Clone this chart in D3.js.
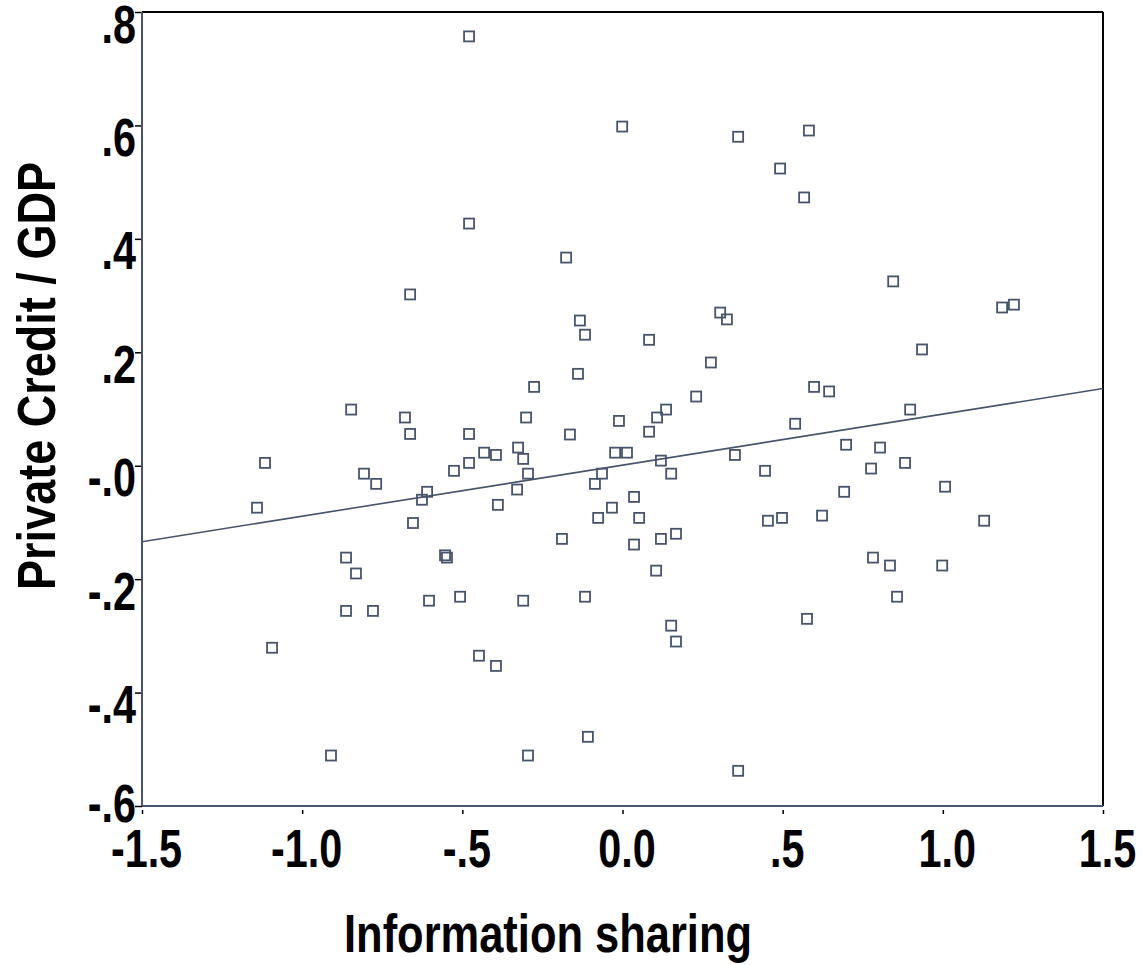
<!DOCTYPE html>
<html>
<head>
<meta charset="utf-8">
<script src="https://cdn.jsdelivr.net/npm/d3@7"></script>
<style>
  body { margin: 0; background: #fff; }
  svg text { font-family: "Liberation Sans", Arial, sans-serif; font-weight: bold; fill: #000; }
</style>
</head>
<body>
<svg id="chart" width="1142" height="965"></svg>
<script>
// information sharing (x) vs private credit / GDP (y)
const infoSharing = [
  -0.479, -0.001, 0.361, 0.582, 0.492, 0.567, -0.479, -0.176, -0.663, 0.845,
  1.185, 1.222, -0.133, 0.305, 0.326, -0.117, 0.083, 0.935, 0.276, -0.139,
  -0.276, 0.598, 0.645, 0.230, -0.847, 0.136, 0.898, -0.679, -0.301, -0.011,
  0.108, 0.539, 0.083, -0.663, -0.479, -0.164, 0.698, 0.804, -0.326, -0.432,
  -0.395, -0.023, 0.014, 0.351, -0.310, 0.120, -1.116, -0.479, 0.882, -0.526,
  -0.807, -0.295, -0.064, 0.152, 0.445, 0.776, -0.769, -0.086, 1.007, -0.329,
  -0.610, 0.692, 0.036, -0.626, -0.389, -0.033, -1.141, -0.076, 0.052, 0.498,
  0.623, 0.454, 1.129, -0.654, 0.167, 0.120, -0.189, 0.036, -0.554, -0.548,
  -0.863, 0.782, 0.835, 0.998, 0.105, -0.832, -0.507, -0.117, 0.857, -0.604,
  -0.310, -0.863, -0.779, 0.576, 0.152, 0.167, -1.094, -0.448, -0.395, -0.108,
  -0.910, -0.295, 0.361
];
const privateCredit = [
  0.757, 0.598, 0.580, 0.591, 0.524, 0.473, 0.427, 0.367, 0.302, 0.325,
  0.279, 0.284, 0.256, 0.270, 0.258, 0.231, 0.222, 0.205, 0.182, 0.162,
  0.139, 0.139, 0.131, 0.122, 0.099, 0.099, 0.099, 0.085, 0.085, 0.079,
  0.085, 0.074, 0.060, 0.056, 0.056, 0.055, 0.037, 0.032, 0.032, 0.023,
  0.019, 0.023, 0.023, 0.019, 0.012, 0.009, 0.005, 0.005, 0.005, -0.009,
  -0.014, -0.014, -0.014, -0.014, -0.009, -0.005, -0.032, -0.032, -0.037, -0.042,
  -0.046, -0.046, -0.055, -0.060, -0.069, -0.074, -0.074, -0.092, -0.092, -0.092,
  -0.088, -0.097, -0.097, -0.101, -0.120, -0.129, -0.129, -0.139, -0.158, -0.162,
  -0.162, -0.162, -0.176, -0.176, -0.185, -0.190, -0.231, -0.231, -0.231, -0.238,
  -0.238, -0.256, -0.256, -0.270, -0.282, -0.310, -0.321, -0.335, -0.353, -0.478,
  -0.511, -0.511, -0.538
];
// fitted line end points
const fitX = [-1.5, 1.5];
const fitY = [-0.134, 0.136];

const xTicks = [-1.5, -1.0, -0.5, 0.0, 0.5, 1.0, 1.5];
const xTickLabels = ["-1.5", "-1.0", "-.5", "0.0", ".5", "1.0", "1.5"];
const yTicks = [0.8, 0.6, 0.4, 0.2, 0.0, -0.2, -0.4, -0.6];
const yTickLabels = [".8", ".6", ".4", ".2", "-.0", "-.2", "-.4", "-.6"];

const svg = d3.select("#chart");
const plot = { left: 142, right: 1103, top: 12, bottom: 806 };
const ink = "#48546b";
const narrow = 0.78; // no narrow font installed, squeeze the bold sans instead

const x = d3.scaleLinear().domain([-1.5, 1.5]).range([plot.left, plot.right]);
const y = d3.scaleLinear().domain([-0.6, 0.8]).range([plot.bottom, plot.top]);

// frame: top/right black, left/bottom slate
svg.append("line").attr("x1", plot.left).attr("x2", plot.right).attr("y1", plot.top).attr("y2", plot.top)
  .attr("stroke", "#000").attr("stroke-width", 2);
svg.append("line").attr("x1", plot.right).attr("x2", plot.right).attr("y1", plot.top).attr("y2", plot.bottom)
  .attr("stroke", "#000").attr("stroke-width", 2);

// y axis
const yAxis = svg.append("g")
  .attr("transform", `translate(${plot.left},0)`)
  .call(d3.axisLeft(y).tickValues(yTicks).tickSize(7).tickFormat((d, i) => yTickLabels[i]));
yAxis.select(".domain").remove();
yAxis.selectAll(".tick line").attr("stroke", "#000").attr("stroke-width", 1.5);
yAxis.selectAll(".tick text")
  .attr("x", 0).attr("y", 0).attr("dy", null)
  .attr("transform", d => `translate(-6,${Math.min(y(d) + 12, 803) - y(d) + 18}) scale(${narrow},1)`)
  .style("font-size", "53px");

// x axis
const xAxis = svg.append("g")
  .attr("transform", `translate(0,${plot.bottom})`)
  .call(d3.axisBottom(x).tickValues(xTicks).tickSize(8).tickFormat((d, i) => xTickLabels[i]));
xAxis.select(".domain").remove();
xAxis.selectAll(".tick line").attr("y1", 4).attr("stroke", "#000").attr("stroke-width", 1.5);
xAxis.selectAll(".tick text")
  .attr("x", 0).attr("y", 0).attr("dy", null)
  .attr("transform", `translate(4,61) scale(${narrow},1)`)
  .style("font-size", "53px");

svg.append("line").attr("x1", plot.left).attr("x2", plot.left).attr("y1", plot.top).attr("y2", plot.bottom)
  .attr("stroke", ink).attr("stroke-width", 2);
svg.append("line").attr("x1", plot.left).attr("x2", plot.right).attr("y1", plot.bottom).attr("y2", plot.bottom)
  .attr("stroke", ink).attr("stroke-width", 2);

// fit line
svg.append("line")
  .attr("x1", x(fitX[0])).attr("y1", y(fitY[0]))
  .attr("x2", x(fitX[1])).attr("y2", y(fitY[1]))
  .attr("stroke", ink).attr("stroke-width", 1.6);

// points
const pts = infoSharing.map((v, i) => ({ x: v, y: privateCredit[i] }));
const sz = 10;
svg.append("g").selectAll("rect")
  .data(pts)
  .enter()
  .append("rect")
  .attr("x", d => x(d.x) - sz / 2)
  .attr("y", d => y(d.y) - sz / 2)
  .attr("width", sz)
  .attr("height", sz)
  .attr("fill", "none")
  .attr("stroke", ink)
  .attr("stroke-width", 1.8);

// axis titles
svg.append("text")
  .attr("transform", `translate(548,952) scale(0.82,1)`)
  .attr("text-anchor", "middle")
  .style("font-size", "53px")
  .text("Information sharing");

svg.append("text")
  .attr("transform", `translate(55,376) rotate(-90) scale(0.85,1)`)
  .attr("text-anchor", "middle")
  .style("font-size", "53px")
  .text("Private Credit / GDP");
</script>
</body>
</html>
